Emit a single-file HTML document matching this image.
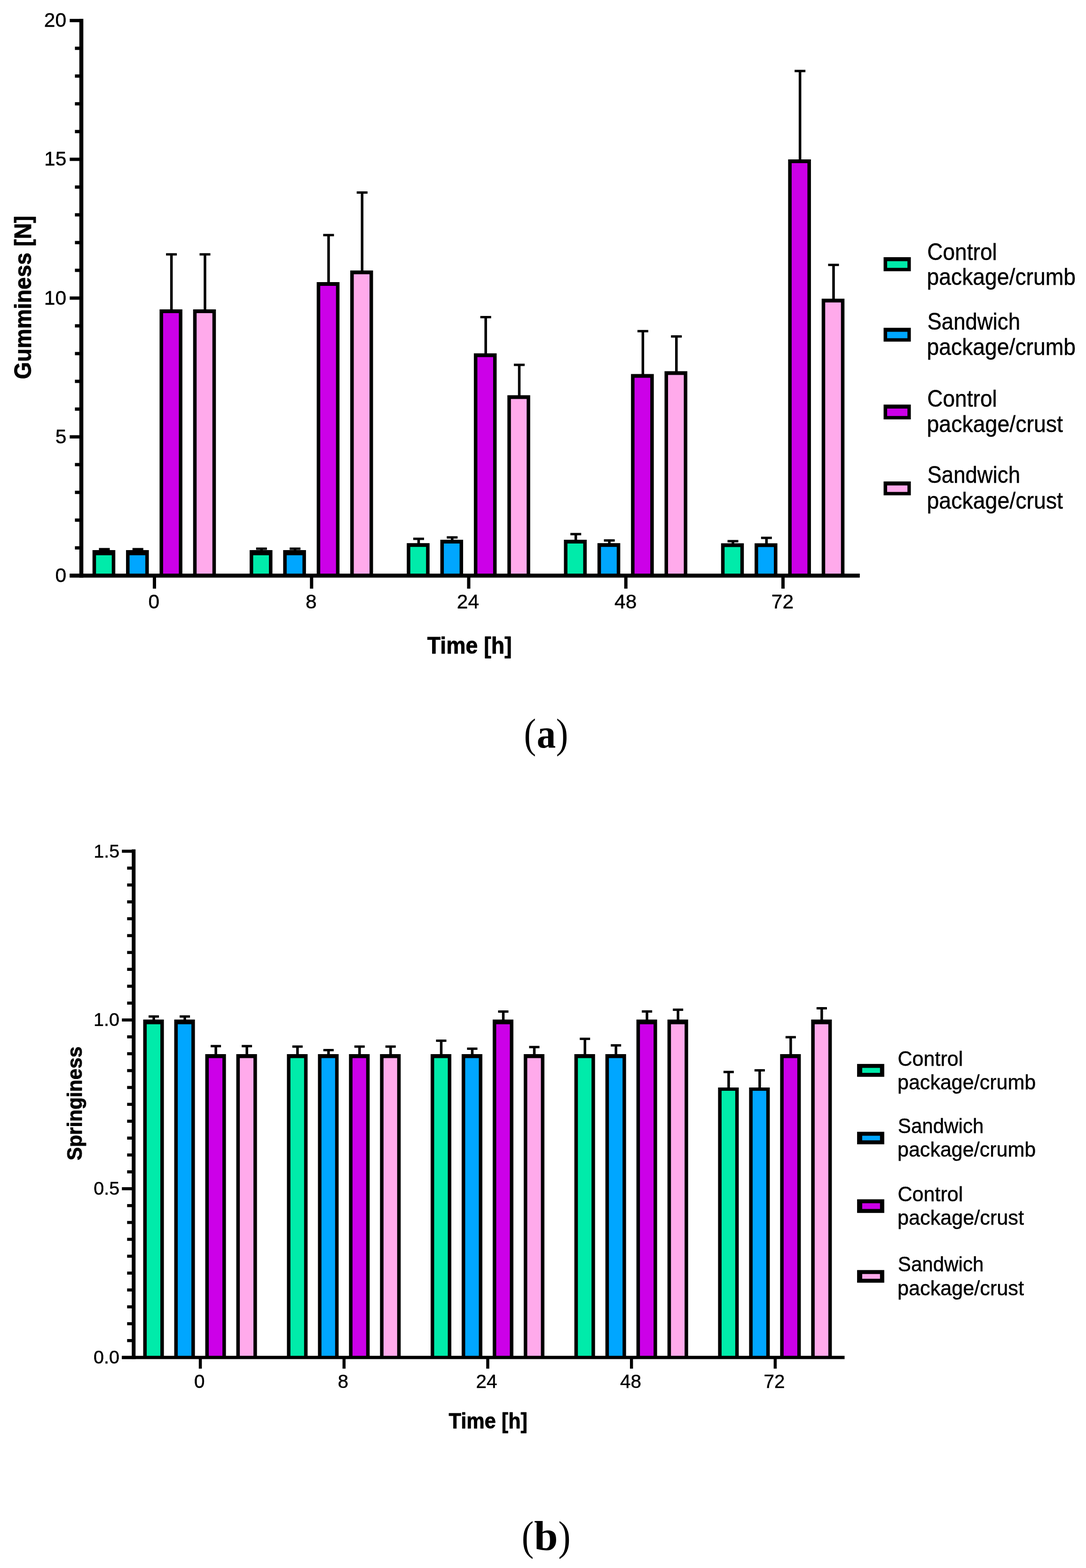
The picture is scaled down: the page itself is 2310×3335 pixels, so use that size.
<!DOCTYPE html>
<html><head><meta charset="utf-8"><title>Gumminess and Springiness</title>
<style>html,body{margin:0;padding:0;background:#fff;}svg{display:block;}</style></head>
<body>
<svg width="2310" height="3335" viewBox="0 0 2310 3335">
<rect width="2310" height="3335" fill="#fff"/>
<g>
<rect x="219.25" y="1168.00" width="5.5" height="5.75" fill="#000"/>
<rect x="210.50" y="1165.50" width="23" height="5" fill="#000"/>
<rect x="196.75" y="1170.00" width="48.50" height="54.30" fill="#000"/>
<rect x="204.25" y="1181.00" width="33.50" height="43.30" fill="#00EBAA"/>
<rect x="290.58" y="1168.00" width="5.5" height="5.75" fill="#000"/>
<rect x="281.83" y="1165.50" width="23" height="5" fill="#000"/>
<rect x="268.08" y="1170.00" width="48.50" height="54.30" fill="#000"/>
<rect x="275.58" y="1181.00" width="33.50" height="43.30" fill="#00A6FF"/>
<rect x="361.92" y="541.00" width="5.5" height="120.75" fill="#000"/>
<rect x="353.17" y="538.50" width="23" height="5" fill="#000"/>
<rect x="339.42" y="658.00" width="48.50" height="566.30" fill="#000"/>
<rect x="346.92" y="666.00" width="33.50" height="558.30" fill="#CC00E8"/>
<rect x="433.25" y="541.00" width="5.5" height="120.75" fill="#000"/>
<rect x="424.50" y="538.50" width="23" height="5" fill="#000"/>
<rect x="410.75" y="658.00" width="48.50" height="566.30" fill="#000"/>
<rect x="418.25" y="666.00" width="33.50" height="558.30" fill="#FFAAEB"/>
<rect x="553.50" y="1167.00" width="5.5" height="6.75" fill="#000"/>
<rect x="544.75" y="1164.50" width="23" height="5" fill="#000"/>
<rect x="531.00" y="1170.00" width="48.50" height="54.30" fill="#000"/>
<rect x="538.50" y="1181.00" width="33.50" height="43.30" fill="#00EBAA"/>
<rect x="624.83" y="1167.00" width="5.5" height="6.75" fill="#000"/>
<rect x="616.08" y="1164.50" width="23" height="5" fill="#000"/>
<rect x="602.33" y="1170.00" width="48.50" height="54.30" fill="#000"/>
<rect x="609.83" y="1181.00" width="33.50" height="43.30" fill="#00A6FF"/>
<rect x="696.17" y="500.00" width="5.5" height="103.75" fill="#000"/>
<rect x="687.42" y="497.50" width="23" height="5" fill="#000"/>
<rect x="673.67" y="600.00" width="48.50" height="624.30" fill="#000"/>
<rect x="681.17" y="608.00" width="33.50" height="616.30" fill="#CC00E8"/>
<rect x="767.50" y="409.50" width="5.5" height="169.55" fill="#000"/>
<rect x="758.75" y="407.00" width="23" height="5" fill="#000"/>
<rect x="745.00" y="575.30" width="48.50" height="649.00" fill="#000"/>
<rect x="752.50" y="583.30" width="33.50" height="641.00" fill="#FFAAEB"/>
<rect x="887.75" y="1146.00" width="5.5" height="12.95" fill="#000"/>
<rect x="879.00" y="1143.50" width="23" height="5" fill="#000"/>
<rect x="865.25" y="1155.20" width="48.50" height="69.10" fill="#000"/>
<rect x="872.75" y="1163.20" width="33.50" height="61.10" fill="#00EBAA"/>
<rect x="959.08" y="1143.00" width="5.5" height="8.75" fill="#000"/>
<rect x="950.33" y="1140.50" width="23" height="5" fill="#000"/>
<rect x="936.58" y="1148.00" width="48.50" height="76.30" fill="#000"/>
<rect x="944.08" y="1156.00" width="33.50" height="68.30" fill="#00A6FF"/>
<rect x="1030.42" y="674.50" width="5.5" height="80.75" fill="#000"/>
<rect x="1021.67" y="672.00" width="23" height="5" fill="#000"/>
<rect x="1007.92" y="751.50" width="48.50" height="472.80" fill="#000"/>
<rect x="1015.42" y="759.50" width="33.50" height="464.80" fill="#CC00E8"/>
<rect x="1101.75" y="776.00" width="5.5" height="68.35" fill="#000"/>
<rect x="1093.00" y="773.50" width="23" height="5" fill="#000"/>
<rect x="1079.25" y="840.60" width="48.50" height="383.70" fill="#000"/>
<rect x="1086.75" y="848.60" width="33.50" height="375.70" fill="#FFAAEB"/>
<rect x="1222.00" y="1136.00" width="5.5" height="15.75" fill="#000"/>
<rect x="1213.25" y="1133.50" width="23" height="5" fill="#000"/>
<rect x="1199.50" y="1148.00" width="48.50" height="76.30" fill="#000"/>
<rect x="1207.00" y="1156.00" width="33.50" height="68.30" fill="#00EBAA"/>
<rect x="1293.33" y="1149.50" width="5.5" height="9.45" fill="#000"/>
<rect x="1284.58" y="1147.00" width="23" height="5" fill="#000"/>
<rect x="1270.83" y="1155.20" width="48.50" height="69.10" fill="#000"/>
<rect x="1278.33" y="1163.20" width="33.50" height="61.10" fill="#00A6FF"/>
<rect x="1364.67" y="704.30" width="5.5" height="94.95" fill="#000"/>
<rect x="1355.92" y="701.80" width="23" height="5" fill="#000"/>
<rect x="1342.17" y="795.50" width="48.50" height="428.80" fill="#000"/>
<rect x="1349.67" y="803.50" width="33.50" height="420.80" fill="#CC00E8"/>
<rect x="1436.00" y="715.60" width="5.5" height="77.65" fill="#000"/>
<rect x="1427.25" y="713.10" width="23" height="5" fill="#000"/>
<rect x="1413.50" y="789.50" width="48.50" height="434.80" fill="#000"/>
<rect x="1421.00" y="797.50" width="33.50" height="426.80" fill="#FFAAEB"/>
<rect x="1556.25" y="1151.00" width="5.5" height="8.25" fill="#000"/>
<rect x="1547.50" y="1148.50" width="23" height="5" fill="#000"/>
<rect x="1533.75" y="1155.50" width="48.50" height="68.80" fill="#000"/>
<rect x="1541.25" y="1163.50" width="33.50" height="60.80" fill="#00EBAA"/>
<rect x="1627.58" y="1144.00" width="5.5" height="15.25" fill="#000"/>
<rect x="1618.83" y="1141.50" width="23" height="5" fill="#000"/>
<rect x="1605.08" y="1155.50" width="48.50" height="68.80" fill="#000"/>
<rect x="1612.58" y="1163.50" width="33.50" height="60.80" fill="#00A6FF"/>
<rect x="1698.92" y="151.00" width="5.5" height="191.75" fill="#000"/>
<rect x="1690.17" y="148.50" width="23" height="5" fill="#000"/>
<rect x="1676.42" y="339.00" width="48.50" height="885.30" fill="#000"/>
<rect x="1683.92" y="347.00" width="33.50" height="877.30" fill="#CC00E8"/>
<rect x="1770.25" y="563.40" width="5.5" height="75.65" fill="#000"/>
<rect x="1761.50" y="560.90" width="23" height="5" fill="#000"/>
<rect x="1747.75" y="635.30" width="48.50" height="589.00" fill="#000"/>
<rect x="1755.25" y="643.30" width="33.50" height="581.00" fill="#FFAAEB"/>
<rect x="168.75" y="40.00" width="8.5" height="1188.55" fill="#000"/>
<rect x="148.30" y="1220.05" width="1680.50" height="8.5" fill="#000"/>
<rect x="148.30" y="1220.80" width="24.70" height="7" fill="#000"/>
<rect x="159.40" y="1161.77" width="13.60" height="7" fill="#000"/>
<rect x="159.40" y="1102.74" width="13.60" height="7" fill="#000"/>
<rect x="159.40" y="1043.71" width="13.60" height="7" fill="#000"/>
<rect x="159.40" y="984.68" width="13.60" height="7" fill="#000"/>
<rect x="148.30" y="925.65" width="24.70" height="7" fill="#000"/>
<rect x="159.40" y="866.62" width="13.60" height="7" fill="#000"/>
<rect x="159.40" y="807.59" width="13.60" height="7" fill="#000"/>
<rect x="159.40" y="748.56" width="13.60" height="7" fill="#000"/>
<rect x="159.40" y="689.53" width="13.60" height="7" fill="#000"/>
<rect x="148.30" y="630.50" width="24.70" height="7" fill="#000"/>
<rect x="159.40" y="571.47" width="13.60" height="7" fill="#000"/>
<rect x="159.40" y="512.44" width="13.60" height="7" fill="#000"/>
<rect x="159.40" y="453.41" width="13.60" height="7" fill="#000"/>
<rect x="159.40" y="394.38" width="13.60" height="7" fill="#000"/>
<rect x="148.30" y="335.35" width="24.70" height="7" fill="#000"/>
<rect x="159.40" y="276.32" width="13.60" height="7" fill="#000"/>
<rect x="159.40" y="217.29" width="13.60" height="7" fill="#000"/>
<rect x="159.40" y="158.26" width="13.60" height="7" fill="#000"/>
<rect x="159.40" y="99.23" width="13.60" height="7" fill="#000"/>
<rect x="148.30" y="40.20" width="24.70" height="7" fill="#000"/>
<rect x="325.00" y="1224.30" width="7" height="27.70" fill="#000"/>
<rect x="659.25" y="1224.30" width="7" height="27.70" fill="#000"/>
<rect x="993.50" y="1224.30" width="7" height="27.70" fill="#000"/>
<rect x="1327.75" y="1224.30" width="7" height="27.70" fill="#000"/>
<rect x="1662.00" y="1224.30" width="7" height="27.70" fill="#000"/>
<rect x="1879.50" y="547.00" width="57.90" height="29.90" fill="#000"/>
<rect x="1887.00" y="555.50" width="43.20" height="14.20" fill="#00EBAA"/>
<rect x="1879.50" y="697.20" width="57.90" height="29.40" fill="#000"/>
<rect x="1887.00" y="705.70" width="43.20" height="13.70" fill="#00A6FF"/>
<rect x="1879.50" y="860.50" width="57.90" height="31.50" fill="#000"/>
<rect x="1887.00" y="869.00" width="43.20" height="15.80" fill="#CC00E8"/>
<rect x="1879.50" y="1024.00" width="57.90" height="29.50" fill="#000"/>
<rect x="1887.00" y="1032.50" width="43.20" height="13.80" fill="#FFAAEB"/>
<rect x="324.35" y="2162.00" width="5.5" height="10.25" fill="#000"/>
<rect x="316.10" y="2159.50" width="22" height="5" fill="#000"/>
<rect x="304.60" y="2168.50" width="44.00" height="718.70" fill="#000"/>
<rect x="312.10" y="2178.50" width="29.00" height="708.70" fill="#00EBAA"/>
<rect x="390.35" y="2162.00" width="5.5" height="10.25" fill="#000"/>
<rect x="382.10" y="2159.50" width="22" height="5" fill="#000"/>
<rect x="370.60" y="2168.50" width="44.00" height="718.70" fill="#000"/>
<rect x="378.10" y="2178.50" width="29.00" height="708.70" fill="#00A6FF"/>
<rect x="456.35" y="2225.00" width="5.5" height="20.75" fill="#000"/>
<rect x="448.10" y="2222.50" width="22" height="5" fill="#000"/>
<rect x="436.60" y="2242.00" width="44.00" height="645.20" fill="#000"/>
<rect x="444.10" y="2250.50" width="29.00" height="636.70" fill="#CC00E8"/>
<rect x="522.35" y="2225.00" width="5.5" height="20.75" fill="#000"/>
<rect x="514.10" y="2222.50" width="22" height="5" fill="#000"/>
<rect x="502.60" y="2242.00" width="44.00" height="645.20" fill="#000"/>
<rect x="510.10" y="2250.50" width="29.00" height="636.70" fill="#FFAAEB"/>
<rect x="630.05" y="2226.00" width="5.5" height="19.75" fill="#000"/>
<rect x="621.80" y="2223.50" width="22" height="5" fill="#000"/>
<rect x="610.30" y="2242.00" width="44.00" height="645.20" fill="#000"/>
<rect x="617.80" y="2250.50" width="29.00" height="636.70" fill="#00EBAA"/>
<rect x="696.05" y="2233.50" width="5.5" height="12.25" fill="#000"/>
<rect x="687.80" y="2231.00" width="22" height="5" fill="#000"/>
<rect x="676.30" y="2242.00" width="44.00" height="645.20" fill="#000"/>
<rect x="683.80" y="2250.50" width="29.00" height="636.70" fill="#00A6FF"/>
<rect x="762.05" y="2226.00" width="5.5" height="19.75" fill="#000"/>
<rect x="753.80" y="2223.50" width="22" height="5" fill="#000"/>
<rect x="742.30" y="2242.00" width="44.00" height="645.20" fill="#000"/>
<rect x="749.80" y="2250.50" width="29.00" height="636.70" fill="#CC00E8"/>
<rect x="828.05" y="2226.00" width="5.5" height="19.75" fill="#000"/>
<rect x="819.80" y="2223.50" width="22" height="5" fill="#000"/>
<rect x="808.30" y="2242.00" width="44.00" height="645.20" fill="#000"/>
<rect x="815.80" y="2250.50" width="29.00" height="636.70" fill="#FFAAEB"/>
<rect x="935.75" y="2213.50" width="5.5" height="32.25" fill="#000"/>
<rect x="927.50" y="2211.00" width="22" height="5" fill="#000"/>
<rect x="916.00" y="2242.00" width="44.00" height="645.20" fill="#000"/>
<rect x="923.50" y="2250.50" width="29.00" height="636.70" fill="#00EBAA"/>
<rect x="1001.75" y="2230.50" width="5.5" height="15.25" fill="#000"/>
<rect x="993.50" y="2228.00" width="22" height="5" fill="#000"/>
<rect x="982.00" y="2242.00" width="44.00" height="645.20" fill="#000"/>
<rect x="989.50" y="2250.50" width="29.00" height="636.70" fill="#00A6FF"/>
<rect x="1067.75" y="2151.50" width="5.5" height="20.75" fill="#000"/>
<rect x="1059.50" y="2149.00" width="22" height="5" fill="#000"/>
<rect x="1048.00" y="2168.50" width="44.00" height="718.70" fill="#000"/>
<rect x="1055.50" y="2178.50" width="29.00" height="708.70" fill="#CC00E8"/>
<rect x="1133.75" y="2227.00" width="5.5" height="18.75" fill="#000"/>
<rect x="1125.50" y="2224.50" width="22" height="5" fill="#000"/>
<rect x="1114.00" y="2242.00" width="44.00" height="645.20" fill="#000"/>
<rect x="1121.50" y="2250.50" width="29.00" height="636.70" fill="#FFAAEB"/>
<rect x="1241.45" y="2209.50" width="5.5" height="36.25" fill="#000"/>
<rect x="1233.20" y="2207.00" width="22" height="5" fill="#000"/>
<rect x="1221.70" y="2242.00" width="44.00" height="645.20" fill="#000"/>
<rect x="1229.20" y="2250.50" width="29.00" height="636.70" fill="#00EBAA"/>
<rect x="1307.45" y="2223.40" width="5.5" height="22.35" fill="#000"/>
<rect x="1299.20" y="2220.90" width="22" height="5" fill="#000"/>
<rect x="1287.70" y="2242.00" width="44.00" height="645.20" fill="#000"/>
<rect x="1295.20" y="2250.50" width="29.00" height="636.70" fill="#00A6FF"/>
<rect x="1373.45" y="2151.30" width="5.5" height="20.95" fill="#000"/>
<rect x="1365.20" y="2148.80" width="22" height="5" fill="#000"/>
<rect x="1353.70" y="2168.50" width="44.00" height="718.70" fill="#000"/>
<rect x="1361.20" y="2178.50" width="29.00" height="708.70" fill="#CC00E8"/>
<rect x="1439.45" y="2147.60" width="5.5" height="24.65" fill="#000"/>
<rect x="1431.20" y="2145.10" width="22" height="5" fill="#000"/>
<rect x="1419.70" y="2168.50" width="44.00" height="718.70" fill="#000"/>
<rect x="1427.20" y="2178.50" width="29.00" height="708.70" fill="#FFAAEB"/>
<rect x="1547.15" y="2280.00" width="5.5" height="36.75" fill="#000"/>
<rect x="1538.90" y="2277.50" width="22" height="5" fill="#000"/>
<rect x="1527.40" y="2313.00" width="44.00" height="574.20" fill="#000"/>
<rect x="1534.90" y="2320.00" width="29.00" height="567.20" fill="#00EBAA"/>
<rect x="1613.15" y="2276.50" width="5.5" height="40.25" fill="#000"/>
<rect x="1604.90" y="2274.00" width="22" height="5" fill="#000"/>
<rect x="1593.40" y="2313.00" width="44.00" height="574.20" fill="#000"/>
<rect x="1600.90" y="2320.00" width="29.00" height="567.20" fill="#00A6FF"/>
<rect x="1679.15" y="2206.00" width="5.5" height="39.75" fill="#000"/>
<rect x="1670.90" y="2203.50" width="22" height="5" fill="#000"/>
<rect x="1659.40" y="2242.00" width="44.00" height="645.20" fill="#000"/>
<rect x="1666.90" y="2250.50" width="29.00" height="636.70" fill="#CC00E8"/>
<rect x="1745.15" y="2144.50" width="5.5" height="27.75" fill="#000"/>
<rect x="1736.90" y="2142.00" width="22" height="5" fill="#000"/>
<rect x="1725.40" y="2168.50" width="44.00" height="718.70" fill="#000"/>
<rect x="1732.90" y="2178.50" width="29.00" height="708.70" fill="#FFAAEB"/>
<rect x="280.30" y="1806.50" width="8.0" height="1084.20" fill="#000"/>
<rect x="259.30" y="2883.70" width="1537.20" height="7.0" fill="#000"/>
<rect x="259.30" y="2883.95" width="25.00" height="6.5" fill="#000"/>
<rect x="270.40" y="2848.06" width="13.90" height="6.5" fill="#000"/>
<rect x="270.40" y="2812.17" width="13.90" height="6.5" fill="#000"/>
<rect x="270.40" y="2776.28" width="13.90" height="6.5" fill="#000"/>
<rect x="270.40" y="2740.39" width="13.90" height="6.5" fill="#000"/>
<rect x="270.40" y="2704.50" width="13.90" height="6.5" fill="#000"/>
<rect x="270.40" y="2668.61" width="13.90" height="6.5" fill="#000"/>
<rect x="270.40" y="2632.72" width="13.90" height="6.5" fill="#000"/>
<rect x="270.40" y="2596.83" width="13.90" height="6.5" fill="#000"/>
<rect x="270.40" y="2560.94" width="13.90" height="6.5" fill="#000"/>
<rect x="259.30" y="2525.05" width="25.00" height="6.5" fill="#000"/>
<rect x="270.40" y="2489.16" width="13.90" height="6.5" fill="#000"/>
<rect x="270.40" y="2453.27" width="13.90" height="6.5" fill="#000"/>
<rect x="270.40" y="2417.38" width="13.90" height="6.5" fill="#000"/>
<rect x="270.40" y="2381.49" width="13.90" height="6.5" fill="#000"/>
<rect x="270.40" y="2345.60" width="13.90" height="6.5" fill="#000"/>
<rect x="270.40" y="2309.71" width="13.90" height="6.5" fill="#000"/>
<rect x="270.40" y="2273.82" width="13.90" height="6.5" fill="#000"/>
<rect x="270.40" y="2237.93" width="13.90" height="6.5" fill="#000"/>
<rect x="270.40" y="2202.04" width="13.90" height="6.5" fill="#000"/>
<rect x="259.30" y="2166.15" width="25.00" height="6.5" fill="#000"/>
<rect x="270.40" y="2130.26" width="13.90" height="6.5" fill="#000"/>
<rect x="270.40" y="2094.37" width="13.90" height="6.5" fill="#000"/>
<rect x="270.40" y="2058.48" width="13.90" height="6.5" fill="#000"/>
<rect x="270.40" y="2022.59" width="13.90" height="6.5" fill="#000"/>
<rect x="270.40" y="1986.70" width="13.90" height="6.5" fill="#000"/>
<rect x="270.40" y="1950.81" width="13.90" height="6.5" fill="#000"/>
<rect x="270.40" y="1914.92" width="13.90" height="6.5" fill="#000"/>
<rect x="270.40" y="1879.03" width="13.90" height="6.5" fill="#000"/>
<rect x="270.40" y="1843.14" width="13.90" height="6.5" fill="#000"/>
<rect x="259.30" y="1807.25" width="25.00" height="6.5" fill="#000"/>
<rect x="422.85" y="2887.20" width="6.5" height="23.80" fill="#000"/>
<rect x="728.55" y="2887.20" width="6.5" height="23.80" fill="#000"/>
<rect x="1034.25" y="2887.20" width="6.5" height="23.80" fill="#000"/>
<rect x="1339.95" y="2887.20" width="6.5" height="23.80" fill="#000"/>
<rect x="1645.65" y="2887.20" width="6.5" height="23.80" fill="#000"/>
<rect x="1823.10" y="2262.90" width="57.80" height="27.40" fill="#000"/>
<rect x="1834.00" y="2271.30" width="37.80" height="10.60" fill="#00EBAA"/>
<rect x="1823.10" y="2407.20" width="57.80" height="26.60" fill="#000"/>
<rect x="1834.00" y="2415.60" width="37.80" height="9.80" fill="#00A6FF"/>
<rect x="1823.10" y="2550.80" width="57.80" height="29.00" fill="#000"/>
<rect x="1834.00" y="2559.20" width="37.80" height="12.20" fill="#CC00E8"/>
<rect x="1823.10" y="2701.30" width="57.80" height="26.90" fill="#000"/>
<rect x="1834.00" y="2709.70" width="37.80" height="10.10" fill="#FFAAEB"/>
</g>
<g fill="#000" stroke="#000" stroke-width="0.5" stroke-linejoin="round" font-family="'Liberation Sans', Arial, sans-serif">
<text x="117.6" y="1237.8" font-size="42.5" style="">0</text>
<text x="117.8" y="942.6" font-size="42.5" style="">5</text>
<text x="93.8" y="647.5" font-size="42.5" style="">10</text>
<text x="94.1" y="352.3" font-size="42.5" style="">15</text>
<text x="93.8" y="57.2" font-size="42.5" style="">20</text>
<text x="315.6" y="1293.8" font-size="42.5" style="">0</text>
<text x="650.0" y="1293.8" font-size="42.5" style="">8</text>
<text x="971.8" y="1293.8" font-size="42.5" style="">24</text>
<text x="1307.0" y="1293.8" font-size="42.5" style="">48</text>
<text x="1640.8" y="1293.8" font-size="42.5" style="">72</text>
<text x="908.8" y="1390.4" font-size="50" textLength="179.8" lengthAdjust="spacingAndGlyphs" style="font-weight:bold;stroke-width:0.9;">Time [h]</text>
<text transform="translate(65.6,633.1) rotate(-90)" x="-173.3" y="0" font-size="50" textLength="347.5" lengthAdjust="spacingAndGlyphs" style="font-weight:bold;stroke-width:0.9;">Gumminess [N]</text>
<text x="1972.2" y="552.5" font-size="50" textLength="148.6" lengthAdjust="spacingAndGlyphs" style="">Control</text>
<text x="1971.5" y="606.2" font-size="50" textLength="316.5" lengthAdjust="spacingAndGlyphs" style="">package/crumb</text>
<text x="1972.4" y="701.0" font-size="50" textLength="197.6" lengthAdjust="spacingAndGlyphs" style="">Sandwich</text>
<text x="1971.5" y="754.8" font-size="50" textLength="316.5" lengthAdjust="spacingAndGlyphs" style="">package/crumb</text>
<text x="1972.2" y="865.3" font-size="50" textLength="148.6" lengthAdjust="spacingAndGlyphs" style="">Control</text>
<text x="1971.5" y="919.0" font-size="50" textLength="289.4" lengthAdjust="spacingAndGlyphs" style="">package/crust</text>
<text x="1972.4" y="1027.4" font-size="50" textLength="197.6" lengthAdjust="spacingAndGlyphs" style="">Sandwich</text>
<text x="1971.5" y="1081.8" font-size="50" textLength="289.4" lengthAdjust="spacingAndGlyphs" style="">package/crust</text>
<text x="199.1" y="2900.2" font-size="39.5" style="">0.0</text>
<text x="199.3" y="2541.3" font-size="39.5" style="">0.5</text>
<text x="199.1" y="2182.4" font-size="39.5" style="">1.0</text>
<text x="199.3" y="1823.5" font-size="39.5" style="">1.5</text>
<text x="412.9" y="2951.7" font-size="40.5" style="">0</text>
<text x="718.5" y="2951.7" font-size="40.5" style="">8</text>
<text x="1012.6" y="2951.7" font-size="40.5" style="">24</text>
<text x="1319.1" y="2951.7" font-size="40.5" style="">48</text>
<text x="1624.4" y="2951.7" font-size="40.5" style="">72</text>
<text x="954.6" y="3038.0" font-size="46" textLength="167.4" lengthAdjust="spacingAndGlyphs" style="font-weight:bold;stroke-width:0.9;">Time [h]</text>
<text transform="translate(173.8,2347.2) rotate(-90)" x="-120.9" y="0" font-size="45" textLength="242.4" lengthAdjust="spacingAndGlyphs" style="font-weight:bold;stroke-width:0.9;">Springiness</text>
<text x="1909.5" y="2266.9" font-size="44" textLength="138.9" lengthAdjust="spacingAndGlyphs" style="">Control</text>
<text x="1909.0" y="2316.5" font-size="44" textLength="294.2" lengthAdjust="spacingAndGlyphs" style="">package/crumb</text>
<text x="1909.8" y="2410.2" font-size="44" textLength="182.6" lengthAdjust="spacingAndGlyphs" style="">Sandwich</text>
<text x="1909.0" y="2459.9" font-size="44" textLength="294.2" lengthAdjust="spacingAndGlyphs" style="">package/crumb</text>
<text x="1909.5" y="2555.0" font-size="44" textLength="138.9" lengthAdjust="spacingAndGlyphs" style="">Control</text>
<text x="1909.0" y="2604.6" font-size="44" textLength="268.9" lengthAdjust="spacingAndGlyphs" style="">package/crust</text>
<text x="1909.8" y="2703.9" font-size="44" textLength="182.6" lengthAdjust="spacingAndGlyphs" style="">Sandwich</text>
<text x="1909.0" y="2754.9" font-size="44" textLength="268.9" lengthAdjust="spacingAndGlyphs" style="">package/crust</text>
</g>
<g fill="#000" font-family="'Liberation Serif', 'Times New Roman', serif" font-size="88">
<text x="1114.60" y="1590.3" textLength="25.76" lengthAdjust="spacingAndGlyphs">(</text>
<text x="1141.67" y="1590.3" textLength="40.48" lengthAdjust="spacingAndGlyphs" font-weight="bold">a</text>
<text x="1182.68" y="1590.3" textLength="25.76" lengthAdjust="spacingAndGlyphs">)</text>
<text x="1109.84" y="3297" textLength="25.50" lengthAdjust="spacingAndGlyphs">(</text>
<text x="1135.96" y="3297" textLength="50.66" lengthAdjust="spacingAndGlyphs" font-weight="bold">b</text>
<text x="1187.55" y="3297" textLength="26.15" lengthAdjust="spacingAndGlyphs">)</text>
</g>
</svg>
</body></html>
